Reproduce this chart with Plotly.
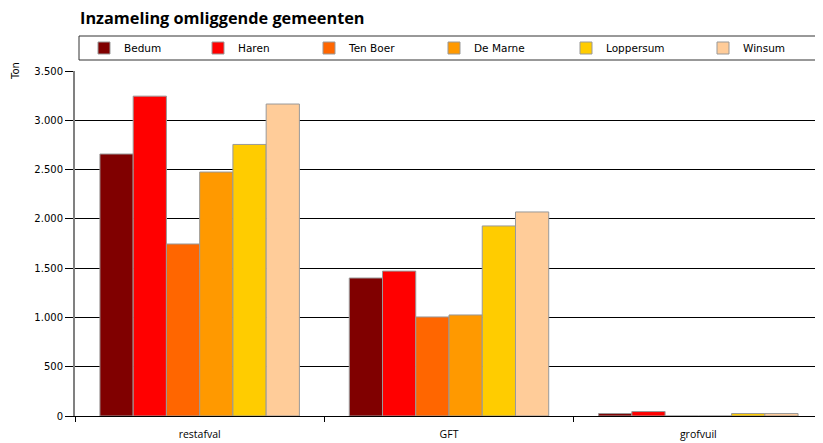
import plotly.graph_objects as go

categories = ["restafval", "GFT", "grofvuil"]
series_names = ["Bedum", "Haren", "Ten Boer", "De Marne", "Loppersum", "Winsum"]
bedum = [2658, 1400, 25]
haren = [3245, 1470, 45]
ten_boer = [1745, 1005, 0]
de_marne = [2475, 1025, 0]
loppersum = [2755, 1928, 25]
winsum = [3165, 2070, 25]
colors = ["#800000", "#FF0000", "#FF6600", "#FF9900", "#FFCC00", "#FFCC99"]
y_ticks = [0, 500, 1000, 1500, 2000, 2500, 3000, 3500]
y_labels = ["0", "500", "1.000", "1.500", "2.000", "2.500", "3.000", "3.500"]

values = [bedum, haren, ten_boer, de_marne, loppersum, winsum]

# the page body adds an 8px offset; the figure fills the rest of the window
OFF = 8
W, H = 823 - OFF, 443 - OFF
# text start pixel (page coords) of each legend entry
legend_text_x = [124, 238, 349, 474, 606, 743]

fig = go.Figure()
legend_layout = {}
for i, (name, vals, col) in enumerate(zip(series_names, values, colors)):
    lname = "legend" if i == 0 else f"legend{i+1}"
    fig.add_trace(go.Bar(x=categories, y=vals, name=name, legend=lname,
                         marker=dict(color=col, line=dict(color="#999999", width=1))))
    legend_layout[lname] = dict(
        orientation="h", xref="container", yref="container",
        x=(legend_text_x[i] - OFF - 40) / W, xanchor="left",
        y=1 - (48 - OFF) / H, yanchor="middle",
        bgcolor="rgba(0,0,0,0)", borderwidth=0,
        font=dict(family="DejaVu Sans", size=10.5, color="black"),
        itemclick=False, itemdoubleclick=False)

fig.update_layout(
    width=W, height=H,
    margin=dict(l=75 - OFF, r=0, t=71 - OFF, b=27),
    plot_bgcolor="white", paper_bgcolor="white",
    barmode="group", bargap=0.2, bargroupgap=0,
    font=dict(family="DejaVu Sans", size=10, color="black"),
    title=dict(text="<b>Inzameling omliggende gemeenten</b>", x=(80 - OFF) / W, xanchor="left",
               y=1 - (18 - OFF) / H, yanchor="middle",
               font=dict(family="Open Sans", size=16.3, color="black")),
    showlegend=True,
    **legend_layout,
)
fig.update_xaxes(showline=True, linecolor="black", linewidth=1, ticks="outside",
                 tickson="boundaries", ticklen=5, tickcolor="black",
                 ticklabelstandoff=8,
                 tickfont=dict(family="Open Sans", size=10.5), showgrid=False)
fig.update_yaxes(range=[0, 3500], tickvals=y_ticks, ticktext=y_labels,
                 showgrid=True, gridcolor="black", gridwidth=1,
                 showline=True, linecolor="#808080", linewidth=2,
                 ticks="outside", ticklen=8, tickcolor="black", zeroline=False,
                 automargin=False)
# legend frame
fig.add_shape(type="rect", xref="paper", yref="paper",
              x0=(79 - 75) / 748, x1=(818 - 75) / 748,
              y0=(416 - 60) / 345, y1=(416 - 36) / 345,
              line=dict(color="#333333", width=1), fillcolor="rgba(0,0,0,0)")
fig.add_annotation(text="Ton", xref="paper", yref="paper", x=-60 / 748, y=1.0,
                   xanchor="center", yanchor="middle", textangle=-90, showarrow=False,
                   font=dict(family="DejaVu Sans", size=10))
fig.write_html("out.html")
